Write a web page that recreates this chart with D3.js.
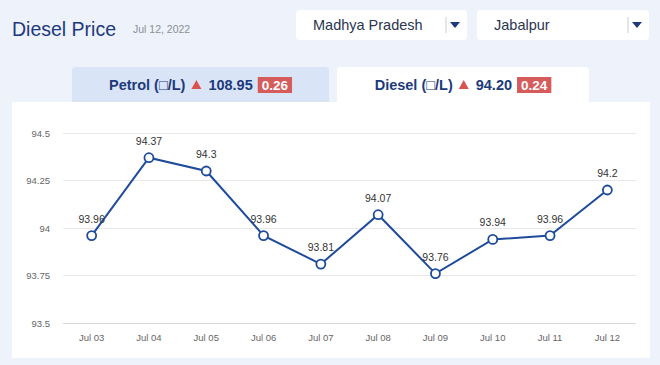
<!DOCTYPE html>
<html><head><meta charset="utf-8">
<script src="https://cdn.jsdelivr.net/npm/d3@7"></script>
<style>
html,body{margin:0;padding:0;background:#eef2fb;}
svg{display:block;font-family:Arial,"Liberation Sans",sans-serif;}
</style></head><body>
<svg id="c" width="660" height="365"></svg>
<script>
const categories = ["Jul 03","Jul 04","Jul 05","Jul 06","Jul 07","Jul 08","Jul 09","Jul 10","Jul 11","Jul 12"];
const dieselPrices = [93.96,94.37,94.3,93.96,93.81,94.07,93.76,93.94,93.96,94.2];
const yTicks = [93.5,93.75,94,94.25,94.5];
const title = "Diesel Price";
const dateLabel = "Jul 12, 2022";
const stateName = "Madhya Pradesh";
const cityName = "Jabalpur";
const tabs = [
  {name:"Petrol (\u25A1/L)", price:"108.95", change:"0.26"},
  {name:"Diesel (\u25A1/L)", price:"94.20", change:"0.24"}
];

const svg = d3.select("#c");
const navy = "#1d3a7c";
const lineColor = "#1f4b9b";

// header
svg.append("text").attr("x",12).attr("y",36).attr("font-size",19.5).attr("fill",navy).text(title);
svg.append("text").attr("x",133).attr("y",33).attr("font-size",10.5).attr("fill","#8a8f99").text(dateLabel);

// dropdowns
const drops = [{x:296,w:171,label:stateName},{x:477,w:172,label:cityName}];
drops.forEach(d=>{
  const g = svg.append("g");
  g.append("rect").attr("x",d.x).attr("y",10).attr("width",d.w).attr("height",30).attr("rx",4).attr("fill","#fff");
  g.append("text").attr("x",d.x+17).attr("y",30).attr("font-size",14.5).attr("fill","#2b3550").text(d.label);
  g.append("line").attr("x1",d.x+d.w-21).attr("x2",d.x+d.w-21).attr("y1",17).attr("y2",33).attr("stroke","#c8ccd4");
  const cx = d.x+d.w-12;
  g.append("path").attr("d",`M${cx-5},22 L${cx+5},22 L${cx},28 Z`).attr("fill",navy);
});

// chart card
svg.append("rect").attr("x",12).attr("y",102).attr("width",638).attr("height",256).attr("fill","#fff");

// tabs
const tabBoxes = [{x:72,w:257,fill:"#dae4f7"},{x:337,w:252,fill:"#fff"}];
tabs.forEach((t,i)=>{
  const b = tabBoxes[i];
  const g = svg.append("g");
  g.append("path").attr("d",`M${b.x},102 V71 Q${b.x},67 ${b.x+4},67 H${b.x+b.w-4} Q${b.x+b.w},67 ${b.x+b.w},71 V102 Z`).attr("fill",b.fill);
  const tg = g.append("g");
  const t1 = tg.append("text").attr("x",0).attr("y",90).attr("font-size",14.5).attr("font-weight","bold").attr("fill",navy).text(t.name);
  let x = t1.node().getComputedTextLength()+6;
  tg.append("path").attr("d",`M${x},89 L${x+10},89 L${x+5},80 Z`).attr("fill","#d9534f");
  x += 17;
  const t2 = tg.append("text").attr("x",x).attr("y",90).attr("font-size",14.5).attr("font-weight","bold").attr("fill",navy).text(t.price);
  x += t2.node().getComputedTextLength()+5;
  const t3 = tg.append("text").attr("x",x+4).attr("y",90).attr("font-size",13.5).attr("font-weight","bold").attr("fill","#fff").text(t.change);
  const w3 = t3.node().getComputedTextLength()+8;
  tg.insert("rect","text:last-child").attr("x",x).attr("y",77).attr("width",w3).attr("height",16).attr("fill","#d65c5c");
  const total = x + w3;
  tg.attr("transform",`translate(${b.x + b.w/2 - total/2},0)`);
});

// plot
const x = d3.scaleBand().domain(categories).range([63,636]);
const y = d3.scaleLinear().domain([93.5,94.5]).range([323,133]);

const grid = svg.append("g");
yTicks.forEach(v=>{
  grid.append("line").attr("x1",63).attr("x2",636).attr("y1",y(v)).attr("y2",y(v))
    .attr("stroke", v===93.5 ? "#d5d9e0" : "#e8e8e8").attr("stroke-width",1).attr("shape-rendering","crispEdges");
});
const yAxis = svg.append("g").attr("transform","translate(50,0)")
  .call(d3.axisLeft(y).tickValues(yTicks).tickSize(0).tickPadding(0).tickFormat(d=>String(d)));
yAxis.select(".domain").remove();
yAxis.selectAll("text").attr("font-size",9.5).attr("fill","#666").attr("font-family","Arial,'Liberation Sans',sans-serif");

const xAxis = svg.append("g").attr("transform","translate(0,331)")
  .call(d3.axisBottom(x).tickSize(0).tickPadding(3));
xAxis.select(".domain").remove();
xAxis.selectAll("text").attr("font-size",9.5).attr("fill","#666").attr("font-family","Arial,'Liberation Sans',sans-serif");

const cx = d => x(d)+x.bandwidth()/2;
const pts = categories.map((c,i)=>({c, v:dieselPrices[i]}));
svg.append("path").datum(pts)
  .attr("d", d3.line().x(d=>cx(d.c)).y(d=>y(d.v)))
  .attr("fill","none").attr("stroke",lineColor).attr("stroke-width",2);
svg.selectAll(".dl").data(pts).enter().append("text")
  .attr("x",d=>cx(d.c)).attr("y",d=>y(d.v)-13).attr("text-anchor","middle")
  .attr("font-size",10.5).attr("fill","#333").text(d=>String(d.v));
svg.selectAll(".pt").data(pts).enter().append("circle")
  .attr("cx",d=>cx(d.c)).attr("cy",d=>y(d.v)).attr("r",4.5)
  .attr("fill","#fff").attr("stroke",lineColor).attr("stroke-width",1.8);
</script></body></html>
